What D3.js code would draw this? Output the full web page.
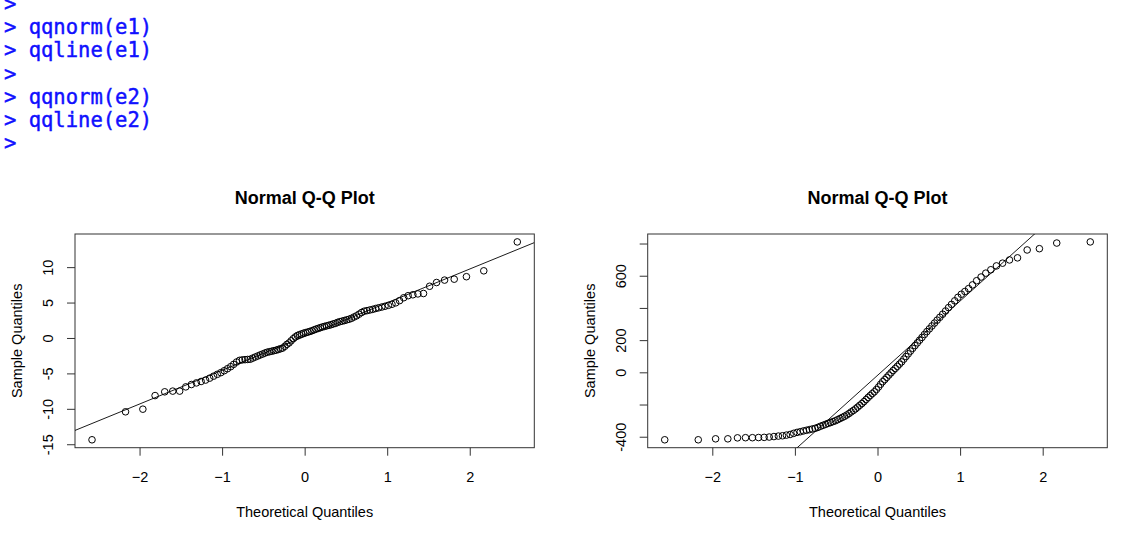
<!DOCTYPE html>
<html>
<head>
<meta charset="utf-8">
<script src="https://cdn.jsdelivr.net/npm/d3@7"></script>
<style>
    body { margin: 0; background: #fff; }
    svg { display: block; }
</style>
</head>
<body>
<div id="chart"></div>
<script>
// console echo above the plots
var consoleLines = [">", "> qqnorm(e1)", "> qqline(e1)", ">", "> qqnorm(e2)", "> qqline(e2)", ">"];

// theoretical normal quantiles for n = 100 (ppoints)
var theoQuantiles = [
    -2.576, -2.170, -1.960, -1.812, -1.695, -1.598, -1.514, -1.440, -1.372, -1.311,
    -1.254, -1.200, -1.150, -1.103, -1.058, -1.015, -0.974, -0.935, -0.896, -0.860,
    -0.824, -0.789, -0.755, -0.722, -0.690, -0.659, -0.628, -0.598, -0.568, -0.539,
    -0.510, -0.482, -0.454, -0.426, -0.399, -0.372, -0.345, -0.319, -0.292, -0.266,
    -0.240, -0.215, -0.189, -0.164, -0.138, -0.113, -0.088, -0.063, -0.038, -0.013,
    0.013, 0.038, 0.063, 0.088, 0.113, 0.138, 0.164, 0.189, 0.215, 0.240,
    0.266, 0.292, 0.319, 0.345, 0.372, 0.399, 0.426, 0.454, 0.482, 0.510,
    0.539, 0.568, 0.598, 0.628, 0.659, 0.690, 0.722, 0.755, 0.789, 0.824,
    0.860, 0.896, 0.935, 0.974, 1.015, 1.058, 1.103, 1.150, 1.200, 1.254,
    1.311, 1.372, 1.440, 1.514, 1.598, 1.695, 1.812, 1.960, 2.170, 2.576
];

// sorted sample values
var e1Sample = [
    -14.37, -10.42, -10.05, -8.13, -7.60, -7.50, -7.50, -6.90, -6.57, -6.34,
    -6.14, -5.94, -5.67, -5.39, -5.13, -4.89, -4.62, -4.34, -4.05, -3.72,
    -3.39, -3.16, -3.09, -3.06, -3.03, -3.00, -2.84, -2.69, -2.54, -2.40,
    -2.27, -2.13, -2.01, -1.94, -1.87, -1.79, -1.72, -1.62, -1.52, -1.42,
    -1.18, -0.90, -0.70, -0.40, -0.10, 0.15, 0.35, 0.46, 0.57, 0.68,
    0.76, 0.84, 0.92, 1.02, 1.14, 1.25, 1.35, 1.45, 1.55, 1.63,
    1.71, 1.79, 1.87, 1.98, 2.06, 2.20, 2.30, 2.38, 2.46, 2.56,
    2.65, 2.78, 2.96, 3.12, 3.36, 3.60, 3.78, 3.86, 3.95, 4.04,
    4.16, 4.26, 4.37, 4.48, 4.61, 4.76, 4.96, 5.27, 5.68, 5.97,
    6.10, 6.22, 6.28, 7.30, 7.83, 8.17, 8.30, 8.65, 9.48, 13.56
];

var e2Sample = [
    -419, -419, -413, -413, -407, -406, -406, -405, -404, -402,
    -399, -396, -394, -390, -386, -379, -373, -369, -364, -360,
    -356, -352, -348, -342, -335, -329, -323, -317, -312, -306,
    -301, -294, -287, -280, -273, -265, -256, -246, -237, -227,
    -216, -205, -194, -182, -169, -156, -144, -132, -121, -107,
    -91, -74, -58, -45, -31, -17, -3, 11, 24, 37,
    51, 65, 82, 98, 115, 132, 149, 166, 183, 200,
    217, 235, 253, 270, 288, 306, 324, 342, 361, 381,
    402, 422, 444, 466, 485, 502, 520, 543, 569, 592,
    616, 637, 661, 678, 698, 711, 760, 768, 803, 810
];

var xTicks = [-2, -1, 0, 1, 2];
var e1Ticks = [-15, -10, -5, 0, 5, 10];
var e1TickLabels = ["-15", "-10", "-5", "0", "5", "10"];
var e2Ticks = [-400, -200, 0, 200, 400, 600, 800];
var e2TickLabels = ["-400", "", "0", "200", "", "600", ""];

var plotTitle = "Normal Q-Q Plot";
var xTitle = "Theoretical Quantiles";
var yTitle = "Sample Quantiles";

var width = 1146,
    height = 541,
    plotTop = 234,
    plotBottom = 447.7,
    fontFamily = "'Liberation Sans', Arial, Helvetica, sans-serif";

var panels = [
    { sample: e1Sample, ticks: e1Ticks, labels: e1TickLabels, left: 75, right: 534.3 },
    { sample: e2Sample, ticks: e2Ticks, labels: e2TickLabels, left: 647.7, right: 1107.3 }
];

var svg = d3.select("#chart").append("svg")
    .attr("width", width)
    .attr("height", height);

// ---- console text (top line is cut by the window edge, as in the screenshot) ----
svg.append("g")
    .selectAll("text")
    .data(consoleLines)
    .enter().append("text")
    .attr("x", 4)
    .attr("y", function(d, i) { return 11 + i * 23.2; })
    .attr("fill", "#1010ff")
    .attr("stroke", "#1010ff")
    .attr("stroke-width", 0.45)
    .style("font-family", "'DejaVu Sans Mono', 'Liberation Mono', monospace")
    .style("font-size", "20.5px")
    .style("white-space", "pre")
    .text(function(d) { return d; });

// R style range: data extent widened by 4%
function padded(values) {
    var ext = d3.extent(values),
        pad = (ext[1] - ext[0]) * 0.04;
    return [ext[0] - pad, ext[1] + pad];
}

panels.forEach(function(p, k) {
    var x = d3.scaleLinear().domain(padded(theoQuantiles)).range([p.left, p.right]);
    var y = d3.scaleLinear().domain(padded(p.sample)).range([plotBottom, plotTop]);

    var g = svg.append("g").attr("class", "panel");

    var clipId = "clip" + k;
    g.append("clipPath").attr("id", clipId)
        .append("rect")
        .attr("x", p.left).attr("y", plotTop)
        .attr("width", p.right - p.left).attr("height", plotBottom - plotTop);

    // x axis
    var xAxis = g.append("g")
        .attr("transform", "translate(0," + plotBottom + ")")
        .call(d3.axisBottom(x).tickValues(xTicks).tickSize(8).tickFormat(d3.format("d")));
    xAxis.select(".domain").remove();
    xAxis.selectAll("line").attr("stroke", "#333");
    xAxis.selectAll("text")
        .attr("y", 34).attr("dy", null)
        .attr("fill", "#000")
        .style("font-family", fontFamily)
        .style("font-size", "14.5px");

    // y axis, labels parallel to the axis
    var yAxis = g.append("g")
        .attr("transform", "translate(" + p.left + ",0)")
        .call(d3.axisLeft(y).tickValues(p.ticks).tickSize(8)
            .tickFormat(function(d, i) { return p.labels[i]; }));
    yAxis.select(".domain").remove();
    yAxis.selectAll("line").attr("stroke", "#333");
    yAxis.selectAll("text")
        .attr("x", 0).attr("dy", null)
        .attr("transform", "translate(-22,0) rotate(-90)")
        .attr("text-anchor", "middle")
        .attr("fill", "#000")
        .style("font-family", fontFamily)
        .style("font-size", "14.5px");

    // box
    g.append("rect")
        .attr("x", p.left).attr("y", plotTop)
        .attr("width", p.right - p.left).attr("height", plotBottom - plotTop)
        .attr("fill", "none")
        .attr("stroke", "#333")
        .attr("stroke-width", 1);

    // qqline through the quartiles
    var sorted = p.sample.slice().sort(d3.ascending);
    var q1 = d3.quantile(sorted, 0.25),
        q3 = d3.quantile(sorted, 0.75),
        z1 = -0.6745,
        z3 = 0.6745,
        slope = (q3 - q1) / (z3 - z1),
        intercept = q1 - slope * z1;
    var xd = x.domain();
    g.append("line")
        .attr("clip-path", "url(#" + clipId + ")")
        .attr("x1", x(xd[0])).attr("y1", y(intercept + slope * xd[0]))
        .attr("x2", x(xd[1])).attr("y2", y(intercept + slope * xd[1]))
        .attr("stroke", "#000")
        .attr("stroke-width", 0.9);

    // points
    g.selectAll("circle")
        .data(p.sample)
        .enter().append("circle")
        .attr("cx", function(d, i) { return x(theoQuantiles[i]); })
        .attr("cy", function(d) { return y(d); })
        .attr("r", 3.3)
        .attr("fill", "none")
        .attr("stroke", "#000")
        .attr("stroke-width", 1);

    // titles
    var cx = (p.left + p.right) / 2;
    g.append("text")
        .attr("x", cx).attr("y", 204)
        .attr("text-anchor", "middle")
        .style("font-family", fontFamily)
        .style("font-size", "18px")
        .style("font-weight", "bold")
        .text(plotTitle);

    g.append("text")
        .attr("x", cx).attr("y", plotBottom + 69.6)
        .attr("text-anchor", "middle")
        .style("font-family", fontFamily)
        .style("font-size", "14.5px")
        .text(xTitle);

    g.append("text")
        .attr("transform", "translate(" + (p.left - 53) + "," + ((plotTop + plotBottom) / 2) + ") rotate(-90)")
        .attr("text-anchor", "middle")
        .style("font-family", fontFamily)
        .style("font-size", "14.5px")
        .text(yTitle);
});
</script>
</body>
</html>
